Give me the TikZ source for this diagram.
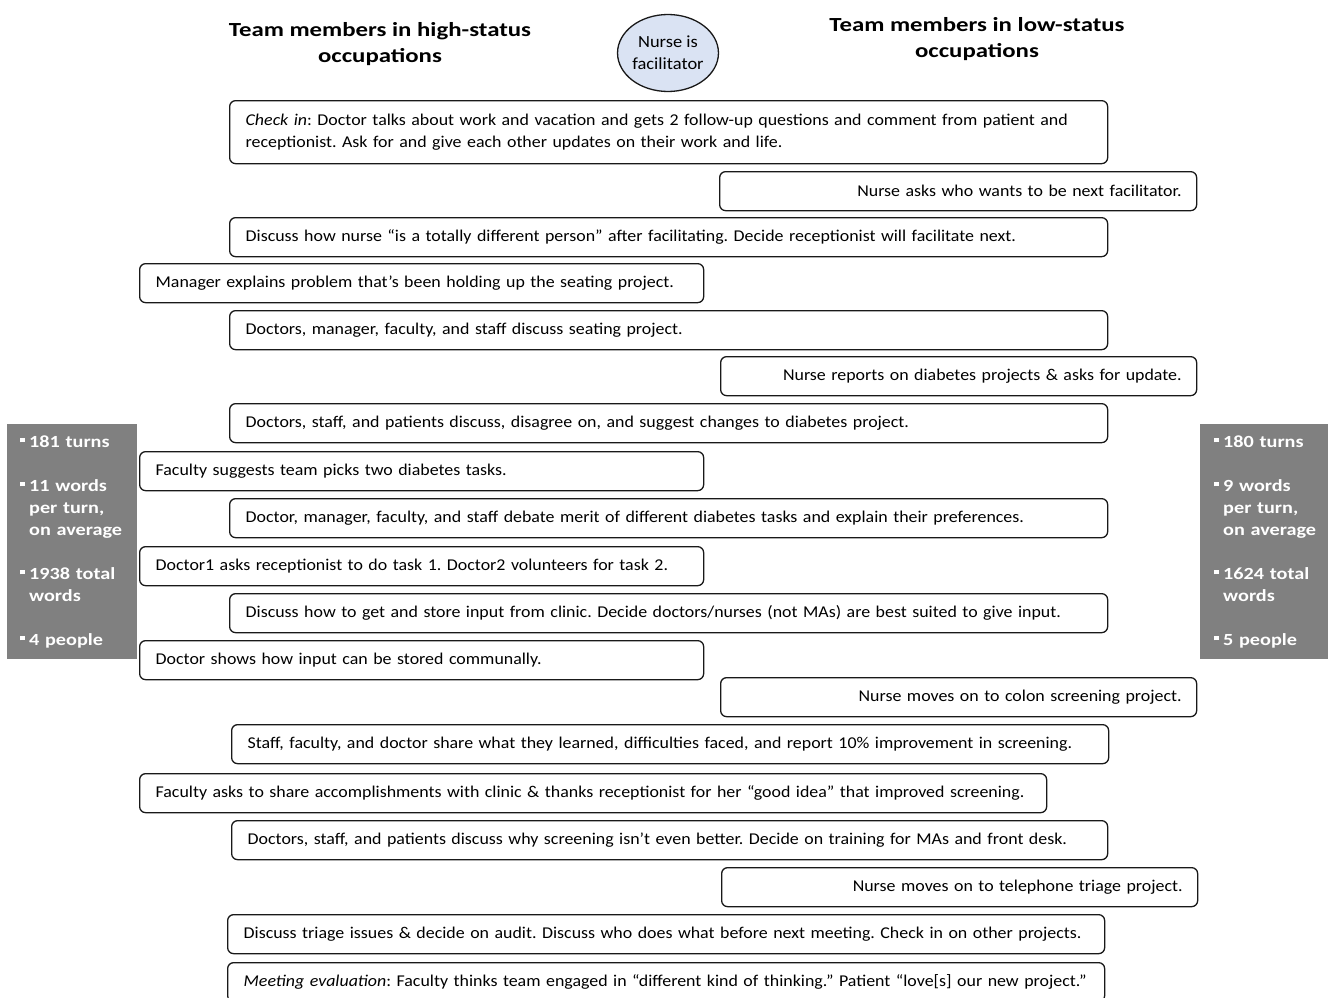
\documentclass[tikz,border=0pt]{standalone}
\usepackage{fontspec}
\setmainfont{Carlito}[FakeStretch=1.085]
\newfontfamily\widebold{Carlito}[FakeStretch=1.24]
\newfontfamily\statfont{Carlito}[FakeStretch=1.19]
\usetikzlibrary{shapes.geometric}
\definecolor{statgray}{HTML}{808080}
\definecolor{facblue}{HTML}{DAE3F3}
\newcommand{\sqb}{\makebox[9pt][l]{\rule[0.28em]{4.5pt}{4.5pt}}}
\tikzset{
  ev/.style={draw=black!90, line width=1.3pt, rounded corners=6pt, fill=white,
    inner sep=0pt, minimum height=39pt, anchor=north west,
    font=\fontsize{16.5}{22}\selectfont\frenchspacing},
  evl/.style={ev, align=left},
  evr/.style={ev, align=right},
  hdr/.style={font=\widebold\fontsize{20}{26}\selectfont\bfseries, align=center, inner sep=0pt},
  stat/.style={fill=statgray, inner sep=0pt, anchor=north west, minimum height=235pt,
    text=white, align=left, font=\statfont\fontsize{17}{22}\selectfont\bfseries},
  fac/.style={ellipse, draw=black!90, line width=1.3pt, fill=facblue, minimum width=100pt,
    minimum height=77pt, inner sep=0pt, align=center, font=\fontsize{17}{22}\selectfont},
}
\begin{document}
\begin{tikzpicture}[x=1pt, y=-1pt]
\useasboundingbox (0,0) rectangle (1328,998);

\node[hdr] (hhigh) at (380,44) {Team members in high-status\\occupations};
\node[hdr] (hlow) at (977,39) {Team members in low-status\\occupations};
\node[fac] (facil) at (668,53) {Nurse is\\facilitator};

\node[evl, minimum width=878pt, minimum height=63pt, text width=846pt] (e1) at (229,100)
  {\textit{Check in}: Doctor talks about work and vacation and gets 2 follow-up questions and comment from patient and\\receptionist. Ask for and give each other updates on their work and life.};
\node[evr, minimum width=477pt, text width=447pt] (e2) at (719,171)
  {Nurse asks who wants to be next facilitator.};
\node[evl, minimum width=878pt, text width=846pt] (e3) at (229,217)
  {Discuss how nurse “is a totally different person” after facilitating. Decide receptionist will facilitate next.};
\node[evl, minimum width=564pt, text width=532pt] (e4) at (139,263)
  {Manager explains problem that’s been holding up the seating project.};
\node[evl, minimum width=878pt, text width=846pt] (e5) at (229,310)
  {Doctors, manager, faculty, and staff discuss seating project.};
\node[evr, minimum width=476pt, text width=446pt] (e6) at (720,356)
  {Nurse reports on diabetes projects \& asks for update.};
\node[evl, minimum width=878pt, text width=846pt] (e7) at (229,403)
  {Doctors, staff, and patients discuss, disagree on, and suggest changes to diabetes project.};
\node[evl, minimum width=564pt, text width=532pt] (e8) at (139,451)
  {Faculty suggests team picks two diabetes tasks.};
\node[evl, minimum width=878pt, text width=846pt] (e9) at (229,498)
  {Doctor, manager, faculty, and staff debate merit of different diabetes tasks and explain their preferences.};
\node[evl, minimum width=564pt, text width=532pt] (e10) at (139,546)
  {Doctor1 asks receptionist to do task 1. Doctor2 volunteers for task 2.};
\node[evl, minimum width=878pt, text width=846pt] (e11) at (229,593)
  {Discuss how to get and store input from clinic. Decide doctors/nurses (not MAs) are best suited to give input.};
\node[evl, minimum width=564pt, text width=532pt] (e12) at (139,640)
  {Doctor shows how input can be stored communally.};
\node[evr, minimum width=476pt, text width=446pt] (e13) at (720,677)
  {Nurse moves on to colon screening project.};
\node[evl, minimum width=877pt, text width=845pt] (e14) at (231,724)
  {Staff, faculty, and doctor share what they learned, difficulties faced, and report 10\% improvement in screening.};
\node[evl, minimum width=907pt, text width=875pt] (e15) at (139,773)
  {Faculty asks to share accomplishments with clinic \& thanks receptionist for her “good idea” that improved screening.};
\node[evl, minimum width=876pt, text width=844pt] (e16) at (231,820)
  {Doctors, staff, and patients discuss why screening isn’t even better. Decide on training for MAs and front desk.};
\node[evr, minimum width=476pt, text width=446pt] (e17) at (721,867)
  {Nurse moves on to telephone triage project.};
\node[evl, minimum width=877pt, text width=845pt] (e18) at (227,914)
  {Discuss triage issues \& decide on audit. Discuss who does what before next meeting. Check in on other projects.};
\node[evl, minimum width=877pt, text width=845pt] (e19) at (227,962)
  {\textit{Meeting evaluation}: Faculty thinks team engaged in “different kind of thinking.” Patient “love[s] our new project.”};

\node[stat, minimum width=130pt, text width=104pt] (shigh) at (7,424)
  {\sqb181 turns\\[22pt]\sqb11 words\\\hspace*{9pt}per turn,\\\hspace*{9pt}\mbox{on average}\\[22pt]\sqb1938 total\\\hspace*{9pt}words\\[22pt]\sqb4 people};
\node[stat, minimum width=128pt, text width=100pt] (slow) at (1200,424)
  {\sqb180 turns\\[22pt]\sqb9 words\\\hspace*{9pt}per turn,\\\hspace*{9pt}\mbox{on average}\\[22pt]\sqb1624 total\\\hspace*{9pt}words\\[22pt]\sqb5 people};
\end{tikzpicture}
\end{document}
